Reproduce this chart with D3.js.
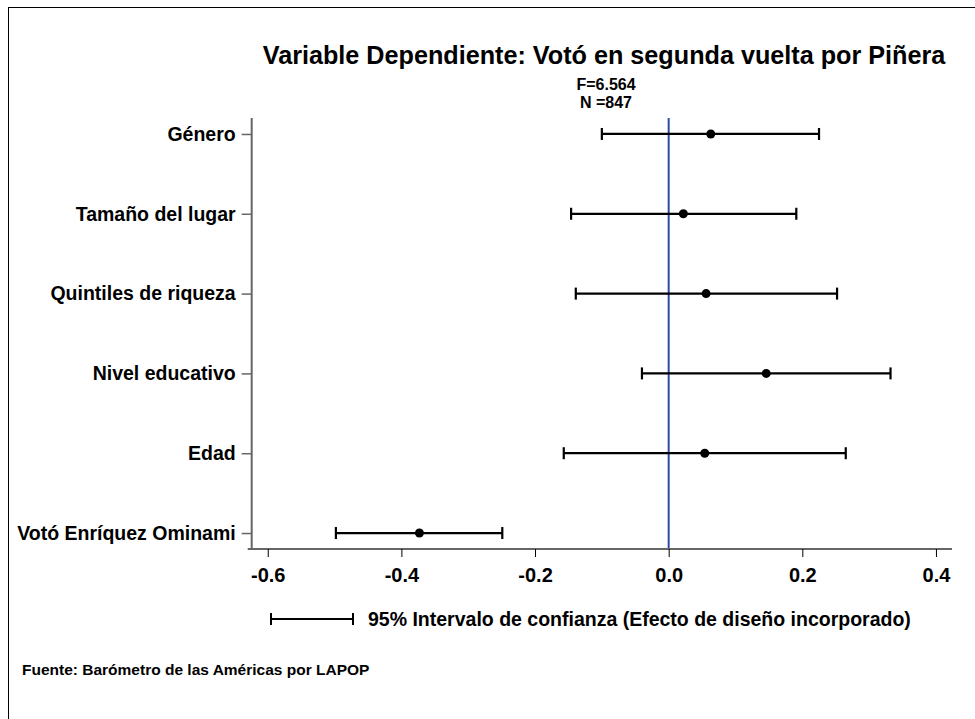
<!DOCTYPE html>
<html>
<head>
<meta charset="utf-8">
<script src="https://cdn.jsdelivr.net/npm/d3@7"></script>
<style>
  html, body { margin: 0; padding: 0; background: #fff; }
  svg { display: block; font-family: "Liberation Sans", Arial, sans-serif; }
</style>
</head>
<body>
<svg id="chart" width="975" height="719"></svg>
<script>
const categories = ["Género", "Tamaño del lugar", "Quintiles de riqueza", "Nivel educativo", "Edad", "Votó Enríquez Ominami"];
const estimates = [0.063, 0.022, 0.056, 0.146, 0.054, -0.373];
const lower = [-0.100, -0.146, -0.139, -0.040, -0.157, -0.498];
const upper = [0.225, 0.191, 0.252, 0.332, 0.265, -0.249];
const xTicks = [-0.6, -0.4, -0.2, 0.0, 0.2, 0.4];
const titleText = "Variable Dependiente: Votó en segunda vuelta por Piñera";
const statF = "F=6.564";
const statN = "N =847";
const legendText = "95% Intervalo de confianza (Efecto de diseño incorporado)";
const sourceText = "Fuente: Barómetro de las Américas por LAPOP";

(function () {
const data = categories.map((c, i) => ({cat: c, est: estimates[i], lo: lower[i], hi: upper[i]}));

const svg = d3.select("#chart");
const pLeft = 251.7, pRight = 952, pTop = 118, pBottom = 549;
const FONT = "Liberation Sans, Arial, sans-serif";

// outer border
svg.append("rect").attr("x", 8.5).attr("y", 7.5).attr("width", 980).attr("height", 730)
  .attr("fill", "none").attr("stroke", "#000").attr("stroke-width", 1);

const x = d3.scaleLinear().domain([-0.624, 0.424]).range([pLeft, pRight]);
const y = d3.scalePoint().domain(categories).range([pTop, pBottom]).padding(0.2);

// title
svg.append("text").attr("x", 604).attr("y", 64).attr("text-anchor", "middle")
  .attr("font-size", 25.2).attr("font-weight", "bold").text(titleText);
svg.append("text").attr("x", 606).attr("y", 90).attr("text-anchor", "middle")
  .attr("font-size", 16).attr("font-weight", "bold").text(statF);
svg.append("text").attr("x", 606).attr("y", 108).attr("text-anchor", "middle")
  .attr("font-size", 16).attr("font-weight", "bold").text(statN);

// x axis
const fmt = d => d3.format(".1f")(d).replace("−", "-");
const xAxis = d3.axisBottom(x).tickValues(xTicks).tickFormat(fmt).tickSize(8).tickSizeOuter(0).tickPadding(6);
const gx = svg.append("g").attr("transform", `translate(0,${pBottom})`).call(xAxis);
gx.select(".domain").attr("stroke", "#666").attr("stroke-width", 2).attr("d", `M${pLeft - 4},0H${pRight}`);
gx.selectAll(".tick line").attr("stroke", "#000").attr("stroke-width", 1);
gx.selectAll(".tick text").attr("font-size", 20).attr("font-weight", "bold").attr("fill", "#000")
  .attr("font-family", FONT).attr("dy", "0.95em");

// y axis
const yAxis = d3.axisLeft(y).tickSize(10).tickSizeOuter(0).tickPadding(6);
const gy = svg.append("g").attr("transform", `translate(${pLeft},0)`).call(yAxis);
gy.select(".domain").attr("stroke", "#666").attr("stroke-width", 2).attr("d", `M0,${pTop}V${pBottom}`);
gy.selectAll(".tick line").attr("stroke", "#666").attr("stroke-width", 1.5);
gy.selectAll(".tick text").attr("font-size", 19.5).attr("font-weight", "bold").attr("fill", "#000")
  .attr("font-family", FONT);

// zero reference line
svg.append("line").attr("x1", x(0)).attr("x2", x(0)).attr("y1", pTop).attr("y2", pBottom - 1)
  .attr("stroke", "#2a4ca3").attr("stroke-width", 2);

// error bars
const g = svg.append("g");
const rows = g.selectAll("g.row").data(data).join("g").attr("class", "row");
rows.append("line").attr("x1", d => x(d.lo)).attr("x2", d => x(d.hi))
  .attr("y1", d => y(d.cat)).attr("y2", d => y(d.cat)).attr("stroke", "#000").attr("stroke-width", 2.2);
rows.append("line").attr("x1", d => x(d.lo)).attr("x2", d => x(d.lo))
  .attr("y1", d => y(d.cat) - 6).attr("y2", d => y(d.cat) + 6).attr("stroke", "#000").attr("stroke-width", 2.2);
rows.append("line").attr("x1", d => x(d.hi)).attr("x2", d => x(d.hi))
  .attr("y1", d => y(d.cat) - 6).attr("y2", d => y(d.cat) + 6).attr("stroke", "#000").attr("stroke-width", 2.2);
rows.append("circle").attr("cx", d => x(d.est)).attr("cy", d => y(d.cat)).attr("r", 4.5).attr("fill", "#000");

// legend
const ly = 619;
const lg = svg.append("g");
lg.append("line").attr("x1", 270).attr("x2", 354).attr("y1", ly).attr("y2", ly).attr("stroke", "#000").attr("stroke-width", 2);
lg.append("line").attr("x1", 271).attr("x2", 271).attr("y1", ly - 6).attr("y2", ly + 6).attr("stroke", "#000").attr("stroke-width", 2);
lg.append("line").attr("x1", 353).attr("x2", 353).attr("y1", ly - 6).attr("y2", ly + 6).attr("stroke", "#000").attr("stroke-width", 2);
lg.append("text").attr("x", 368).attr("y", ly).attr("dy", "0.35em").attr("font-size", 19.5).attr("font-weight", "bold").text(legendText);

// source
svg.append("text").attr("x", 22).attr("y", 670).attr("dy", "0.35em").attr("font-size", 15.5).attr("font-weight", "bold").text(sourceText);
})();
</script>
</body>
</html>
